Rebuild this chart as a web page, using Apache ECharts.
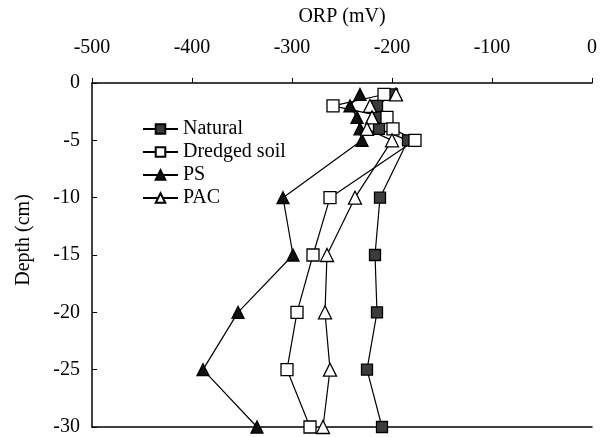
<!DOCTYPE html>
<html>
<head>
<meta charset="utf-8">
<script src="https://cdn.jsdelivr.net/npm/echarts@6/dist/echarts.min.js"></script>
<style>
  html, body { margin: 0; padding: 0; background: #fff; }
  #main { width: 604px; height: 437px; }
</style>
</head>
<body>
<div id="main"></div>
<script>
// depth of each sample (cm)
var depth = [-1, -2, -3, -4, -5, -10, -15, -20, -25, -30];
// ORP values (mV) for each treatment
var natural = [-200, -215, -214, -213, -184, -212, -217, -215, -225, -210];
var dredged = [-208, -259, -205, -199, -177, -262, -279, -295, -305, -282];
var ps = [-232, -242, -235, -232, -230, -309, -299, -354, -389, -335];
var pac = [-196, -222, -220, -225, -200, -237, -265, -267, -262, -269];
var seriesNames = ['Natural', 'Dredged soil', 'PS', 'PAC'];

var font = "'Liberation Serif', 'Times New Roman', serif";

// x = ORP, y = depth
function pairs(vals) {
  return vals.map(function (v, i) { return [v, depth[i]]; });
}

function mkSeries(name, vals, symbol, size, fill) {
  return {
    name: name,
    type: 'line',
    data: pairs(vals),
    symbol: symbol,
    symbolSize: size,
    showAllSymbol: true,
    lineStyle: { color: '#000', width: 1.2 },
    itemStyle: { color: fill, borderColor: '#000', borderWidth: 1.3 },
    emphasis: { disabled: true },
    animation: false,
    z: 3
  };
}

var myChart = echarts.init(document.getElementById('main'));
var option = {
  backgroundColor: '#fff',
  textStyle: { fontFamily: font },
  grid: { left: 92, right: 12, top: 83, bottom: 9 },
  legend: {
    orient: 'vertical',
    left: 137,
    top: 114,
    itemWidth: 35,
    itemHeight: 12,
    itemGap: 3,
    data: seriesNames,
    textStyle: { fontFamily: font, fontSize: 20, color: '#000', lineHeight: 20 }
  },
  xAxis: [{
    type: 'value',
    position: 'top',
    min: -500,
    max: 0,
    interval: 100,
    name: 'ORP (mV)',
    nameLocation: 'middle',
    nameGap: 56,
    nameTextStyle: { fontFamily: font, fontSize: 20, color: '#000' },
    axisLine: { show: true, onZero: false, lineStyle: { color: '#000', width: 1.5 } },
    axisTick: { show: true, inside: false, length: 5, lineStyle: { color: '#000' } },
    axisLabel: { margin: 25, fontFamily: font, fontSize: 20, color: '#000' },
    splitLine: { show: false }
  }, {
    type: 'value',
    position: 'bottom',
    min: -500,
    max: 0,
    axisLine: { show: true, onZero: false, lineStyle: { color: '#000', width: 1.5 } },
    axisTick: { show: false },
    axisLabel: { show: false },
    splitLine: { show: false }
  }],
  yAxis: {
    type: 'value',
    min: -30,
    max: 0,
    interval: 5,
    name: 'Depth (cm)',
    nameLocation: 'middle',
    nameGap: 58,
    nameRotate: 90,
    nameTextStyle: { fontFamily: font, fontSize: 20, color: '#000', padding: [0, 0, 0, 30] },
    axisLine: { show: true, onZero: false, lineStyle: { color: '#000', width: 1.5 } },
    axisTick: { show: true, inside: true, length: 5, lineStyle: { color: '#000' } },
    axisLabel: { margin: 12, fontFamily: font, fontSize: 20, color: '#000' },
    splitLine: { show: false }
  },
  series: [
    mkSeries('Natural', natural, 'rect', 11, '#3c3c3c'),
    mkSeries('Dredged soil', dredged, 'rect', 12, '#fff'),
    mkSeries('PS', ps, 'triangle', 12, '#111'),
    mkSeries('PAC', pac, 'triangle', 13, '#fff')
  ]
};
myChart.setOption(option);
</script>
</body>
</html>
